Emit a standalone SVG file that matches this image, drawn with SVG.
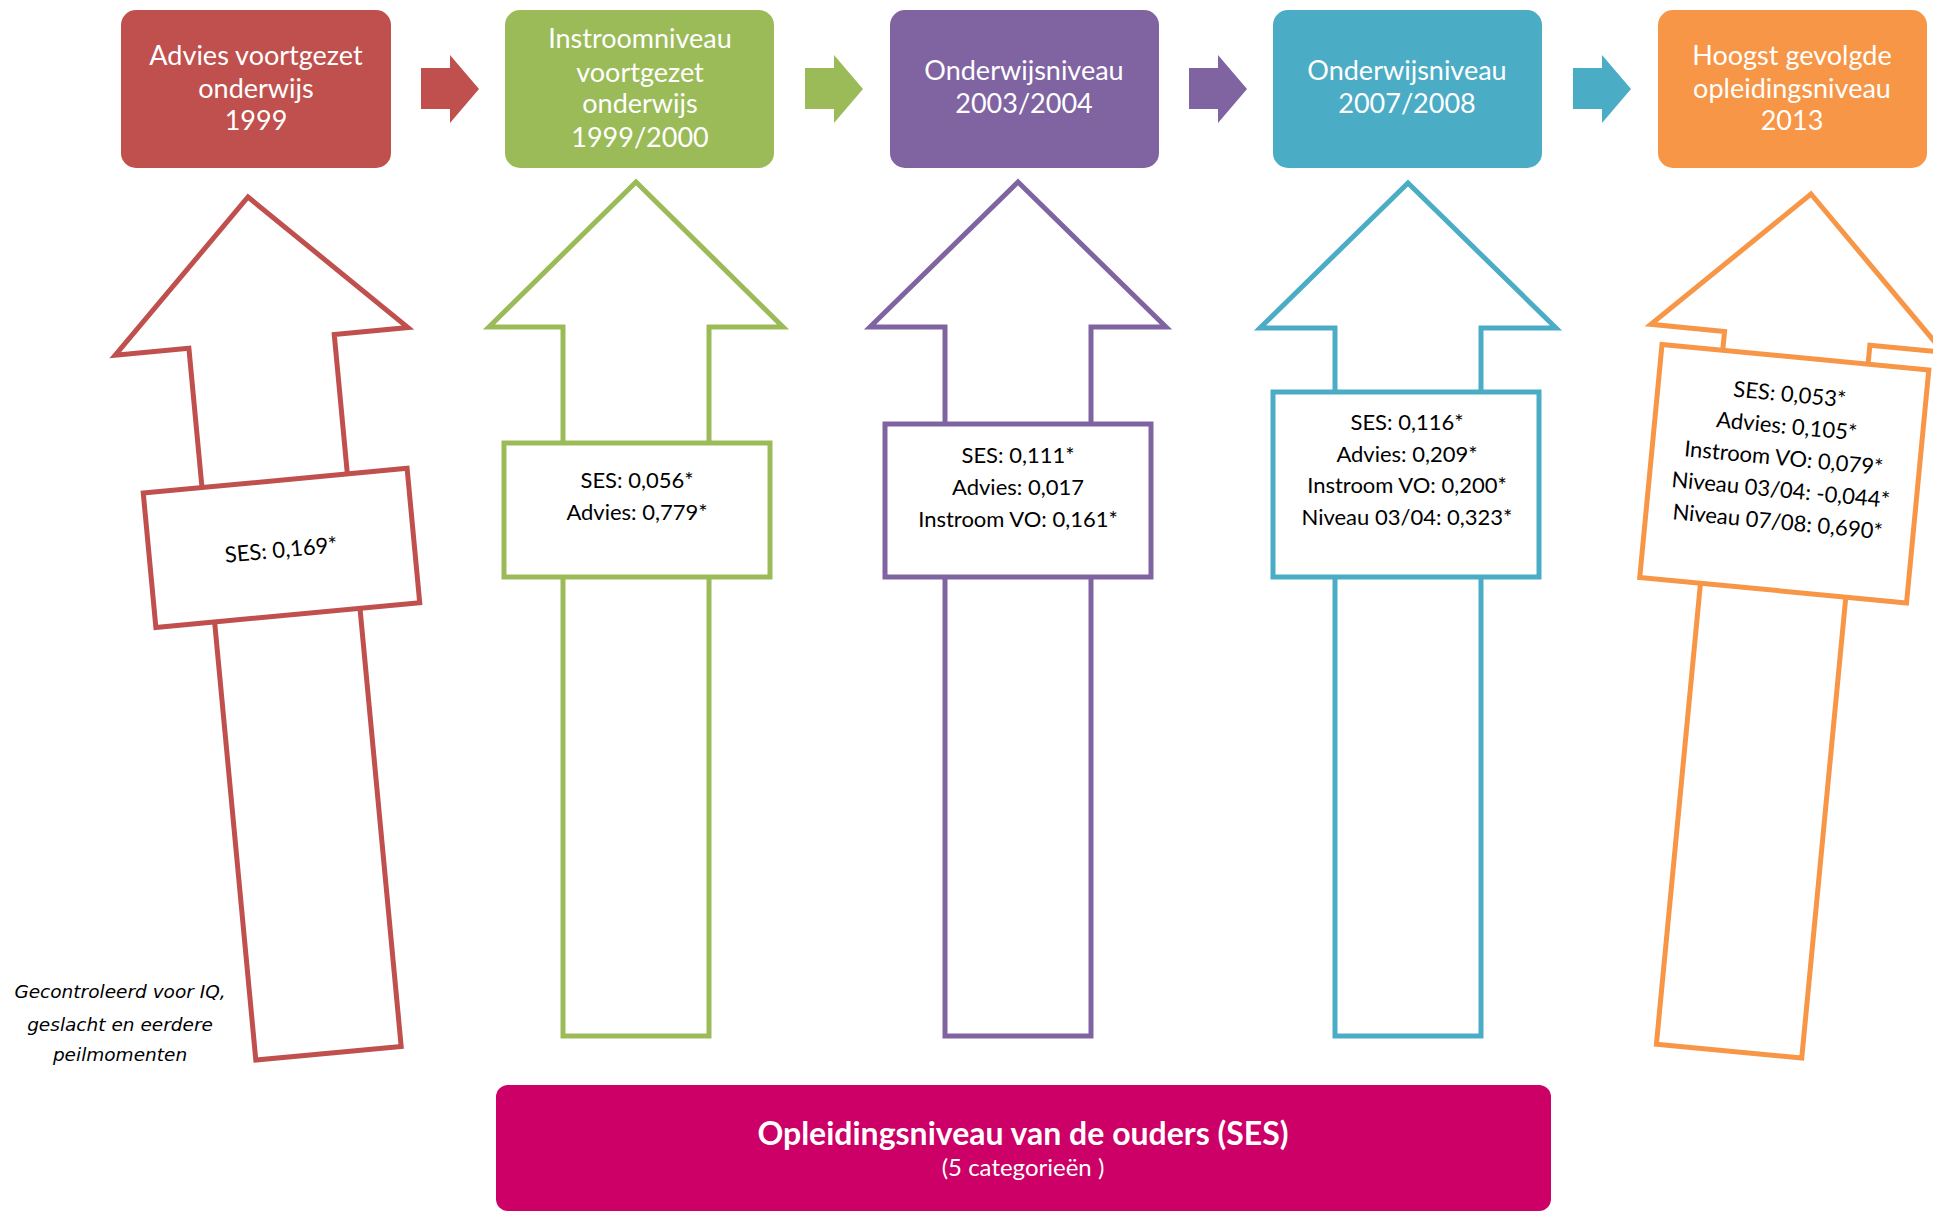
<svg xmlns="http://www.w3.org/2000/svg" width="1933" height="1211" viewBox="0 0 1933 1211">
<style>
.title{font-family:Lato,"Liberation Sans",sans-serif;font-size:27px;fill:#fff;text-anchor:middle}
.lbl{font-family:Lato,"Liberation Sans",sans-serif;font-size:22px;fill:#000;text-anchor:middle}
.note{font-family:"DejaVu Sans",Verdana,sans-serif;font-style:italic;font-size:18.5px;fill:#000;text-anchor:middle}
.up{fill:#fff;stroke-width:5;stroke-linejoin:miter}
.red{stroke:#C0504D}.green{stroke:#9BBB59}.purple{stroke:#8064A2}.blue{stroke:#4BACC6}.orange{stroke:#F79646}
</style>
<rect width="1933" height="1211" fill="#fff"/>

<g id="connectors">
  <polygon points="421,68 450,68 450,55 479,89 450,123 450,109 421,109" fill="#C0504D"/>
  <polygon points="805,68 834,68 834,55 863,89 834,123 834,109 805,109" fill="#9BBB59"/>
  <polygon points="1189,68 1218,68 1218,55 1247,89 1218,123 1218,109 1189,109" fill="#8064A2"/>
  <polygon points="1573,68 1602,68 1602,55 1631,89 1602,123 1602,109 1573,109" fill="#4BACC6"/>

  <g id="effect-advies" transform="translate(248,197) rotate(-5.37)">
    <path class="up red" d="M0,0 L147,145 L73,145 L73,860 L-73,860 L-73,145 L-147,145 Z"/>
    <rect class="up red" x="-132" y="285" width="265" height="135"/>
    <text class="lbl" x="0" y="362">SES: 0,169*</text>
  </g>
  <g id="effect-instroom" transform="translate(636,182)">
    <path class="up green" d="M0,0 L147,145 L73,145 L73,854 L-73,854 L-73,145 L-147,145 Z"/>
    <rect class="up green" x="-132" y="261" width="266" height="134"/>
    <text class="lbl" x="1" y="306">SES: 0,056*</text>
    <text class="lbl" x="1" y="338">Advies: 0,779*</text>
  </g>
  <g id="effect-niveau0304" transform="translate(1018,182)">
    <path class="up purple" d="M0,0 L148,145 L73,145 L73,854 L-73,854 L-73,145 L-148,145 Z"/>
    <rect class="up purple" x="-133" y="242" width="266" height="153"/>
    <text class="lbl" x="0" y="281">SES: 0,111*</text>
    <text class="lbl" x="0" y="313">Advies: 0,017</text>
    <text class="lbl" x="0" y="345">Instroom VO: 0,161*</text>
  </g>
  <g id="effect-niveau0708" transform="translate(1408,183)">
    <path class="up blue" d="M0,0 L148,145 L73,145 L73,853 L-73,853 L-73,145 L-148,145 Z"/>
    <rect class="up blue" x="-135" y="209" width="266" height="185"/>
    <text class="lbl" x="-1" y="247">SES: 0,116*</text>
    <text class="lbl" x="-1" y="279">Advies: 0,209*</text>
    <text class="lbl" x="-1" y="310">Instroom VO: 0,200*</text>
    <text class="lbl" x="-1" y="342">Niveau 03/04: 0,323*</text>
  </g>
  <g id="effect-opleiding2013" transform="translate(1811,194) rotate(5.46)">
    <path class="up orange" d="M0,0 L147,145 L73,145 L73,861 L-73,861 L-73,145 L-147,145 Z"/>
    <rect class="up orange" x="-134" y="164" width="268" height="234"/>
    <text class="lbl" x="-2" y="209">SES: 0,053*</text>
    <text class="lbl" x="-2" y="241">Advies: 0,105*</text>
    <text class="lbl" x="-2" y="273">Instroom VO: 0,079*</text>
    <text class="lbl" x="-2" y="305">Niveau 03/04: -0,044*</text>
    <text class="lbl" x="-2" y="337">Niveau 07/08: 0,690*</text>
  </g>
</g>

<g id="node-advies">
  <rect x="121" y="10" width="270" height="158" rx="15" fill="#C0504D"/>
  <text class="title" x="256" y="65">Advies voortgezet</text>
  <text class="title" x="256" y="98">onderwijs</text>
  <text class="title" x="256" y="130">1999</text>
</g>
<g id="node-instroom">
  <rect x="505" y="10" width="269" height="158" rx="15" fill="#9BBB59"/>
  <text class="title" x="640" y="48">Instroomniveau</text>
  <text class="title" x="640" y="82">voortgezet</text>
  <text class="title" x="640" y="113">onderwijs</text>
  <text class="title" x="640" y="147">1999/2000</text>
</g>
<g id="node-niveau0304">
  <rect x="890" y="10" width="269" height="158" rx="15" fill="#8064A2"/>
  <text class="title" x="1024" y="80">Onderwijsniveau</text>
  <text class="title" x="1024" y="113">2003/2004</text>
</g>
<g id="node-niveau0708">
  <rect x="1273" y="10" width="269" height="158" rx="15" fill="#4BACC6"/>
  <text class="title" x="1407" y="80">Onderwijsniveau</text>
  <text class="title" x="1407" y="113">2007/2008</text>
</g>
<g id="node-opleiding2013">
  <rect x="1658" y="10" width="269" height="158" rx="15" fill="#F79646"/>
  <text class="title" x="1792" y="65">Hoogst gevolgde</text>
  <text class="title" x="1792" y="98">opleidingsniveau</text>
  <text class="title" x="1792" y="130">2013</text>
</g>

<g id="node-ses">
  <rect x="496" y="1085" width="1055" height="126" rx="12" fill="#CC0066"/>
  <text x="1023" y="1145" font-family="Lato,'Liberation Sans',sans-serif" font-size="32" font-weight="bold" fill="#fff" text-anchor="middle">Opleidingsniveau van de ouders (SES)</text>
  <text x="1023" y="1176" font-family="Lato,'Liberation Sans',sans-serif" font-size="24" fill="#fff" text-anchor="middle">(5 categorieën )</text>
</g>

<g id="note">
  <text class="note" x="120" y="998">Gecontroleerd voor IQ,</text>
  <text class="note" x="120" y="1031">geslacht en eerdere</text>
  <text class="note" x="120" y="1061">peilmomenten</text>
</g>
</svg>
